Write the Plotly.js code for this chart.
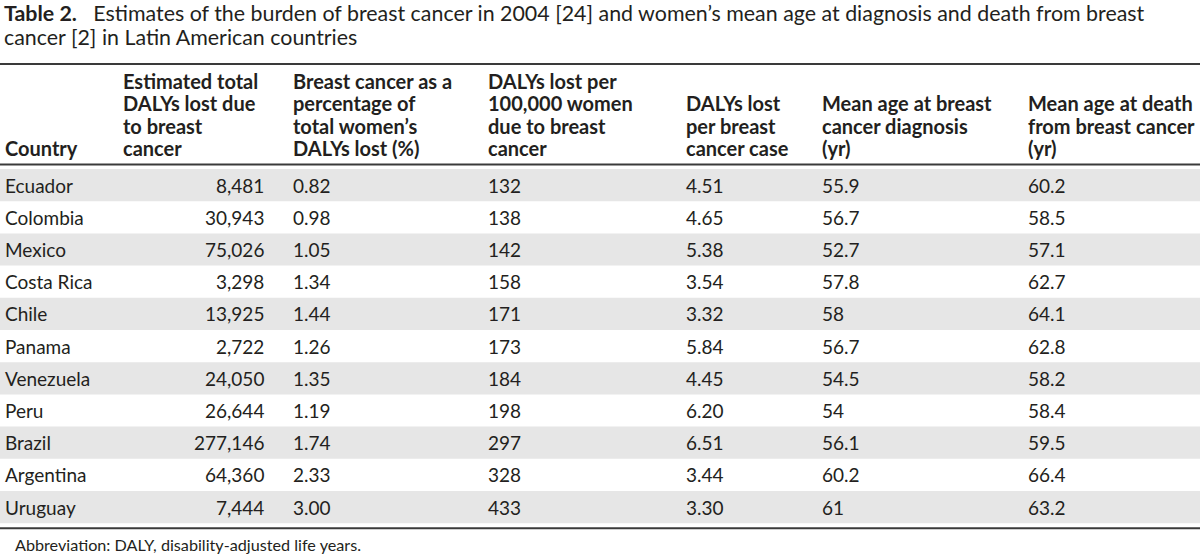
<!DOCTYPE html>
<html>
<head>
<meta charset="utf-8">
<script src="https://cdn.plot.ly/plotly-3.0.1.min.js"></script>
<style>html,body{margin:0;padding:0;background:#fff;}#chart{width:1200px;height:554px;}</style>
</head>
<body>
<div id="chart"></div>
<script>
// ---- data ----
const countries = ["Ecuador","Colombia","Mexico","Costa Rica","Chile","Panama","Venezuela","Peru","Brazil","Argentina","Uruguay"];
const totalDALYs = [8481,30943,75026,3298,13925,2722,24050,26644,277146,64360,7444];
const pctWomenDALYs = [0.82,0.98,1.05,1.34,1.44,1.26,1.35,1.19,1.74,2.33,3.00];
const dalysPer100k = [132,138,142,158,171,173,184,198,297,328,433];
const dalysPerCase = [4.51,4.65,5.38,3.54,3.32,5.84,4.45,6.20,6.51,3.44,3.30];
const ageDiagnosis = [55.9,56.7,52.7,57.8,58,56.7,54.5,54,56.1,60.2,61];
const ageDeath = [60.2,58.5,57.1,62.7,64.1,62.8,58.2,58.4,59.5,66.4,63.2];
const headers = [
  ["Country"],
  ["Estimated total","DALYs lost due","to breast","cancer"],
  ["Breast cancer as a","percentage of","total women’s","DALYs lost (%)"],
  ["DALYs lost per","100,000 women","due to breast","cancer"],
  ["DALYs lost","per breast","cancer case"],
  ["Mean age at breast","cancer diagnosis","(yr)"],
  ["Mean age at death","from breast cancer","(yr)"]
];
const titleLines = [
  "<b>Table 2.</b>   Estimates of the burden of breast cancer in 2004 [24] and women’s mean age at diagnosis and death from breast",
  "cancer [2] in Latin American countries"
];
const footnote = "Abbreviation: DALY, disability-adjusted life years.";

// ---- layout / style ----
const FONT = "Lato, 'Open Sans', sans-serif";
const TXT = "#231f20";
const colX = [3, 121, 291, 486, 684, 820, 1026];
const valueRightX = 266;           // right edge for column 2 values
const rowTop = 169, rowH = 32.2;
const cols = [
  countries,
  totalDALYs.map(v => v.toLocaleString("en-US")),
  pctWomenDALYs.map(v => v.toFixed(2)),
  dalysPer100k.map(v => String(v)),
  dalysPerCase.map(v => v.toFixed(2)),
  ageDiagnosis.map(v => String(v)),
  ageDeath.map(v => String(v))
];

const shapes = [];
const annotations = [];

// shaded bands
countries.forEach((c, i) => {
  if (i % 2 === 0) {
    shapes.push({type: "rect", xref: "x", yref: "y", x0: 0, x1: 1200,
      y0: rowTop + i * rowH, y1: rowTop + (i + 1) * rowH,
      fillcolor: "#e6e6e6", line: {width: 0}, layer: "below"});
  }
});
// rules
[64, 164.5, rowTop + countries.length * rowH + 5].forEach(y => {
  shapes.push({type: "line", xref: "x", yref: "y", x0: 0, x1: 1200, y0: y, y1: y,
    line: {color: "#3a3a3a", width: 2}});
});

// title
titleLines.forEach((t, k) => {
  annotations.push({xref: "x", yref: "y", x: 2, y: 13 + k * 23.5, xanchor: "left", yanchor: "middle",
    text: t, showarrow: false, align: "left",
    font: {family: FONT, size: 21.4, color: TXT}});
});

// headers (bottom aligned, 22px line spacing)
headers.forEach((lines, j) => {
  const n = lines.length;
  lines.forEach((ln, k) => {
    annotations.push({xref: "x", yref: "y", x: colX[j], y: 148 - (n - 1 - k) * 22.3,
      xanchor: "left", yanchor: "middle",
      text: "<b>" + ln + "</b>", showarrow: false, align: "left",
      font: {family: FONT, size: 20, color: TXT}});
  });
});

// body cells
cols.forEach((col, j) => {
  col.forEach((t, i) => {
    const right = (j === 1);
    annotations.push({xref: "x", yref: "y",
      x: right ? valueRightX : colX[j], y: rowTop + (i + 0.5) * rowH,
      xanchor: right ? "right" : "left", yanchor: "middle",
      text: t, showarrow: false, align: right ? "right" : "left",
      font: {family: FONT, size: 19, color: TXT}});
  });
});

// footnote
annotations.push({xref: "x", yref: "y", x: 13, y: 544, xanchor: "left", yanchor: "middle",
  text: footnote, showarrow: false, font: {family: FONT, size: 16.2, color: TXT}});

const layout = {
  width: 1200, height: 554,
  margin: {l: 0, r: 0, t: 0, b: 0},
  paper_bgcolor: "#ffffff", plot_bgcolor: "#ffffff",
  xaxis: {range: [0, 1200], visible: false, fixedrange: true},
  yaxis: {range: [554, 0], visible: false, fixedrange: true},
  showlegend: false,
  shapes: shapes,
  annotations: annotations
};

Plotly.newPlot("chart", [{type: "scatter", x: [], y: [], mode: "markers", hoverinfo: "skip"}], layout, {displayModeBar: false, staticPlot: true});
</script>
</body>
</html>
